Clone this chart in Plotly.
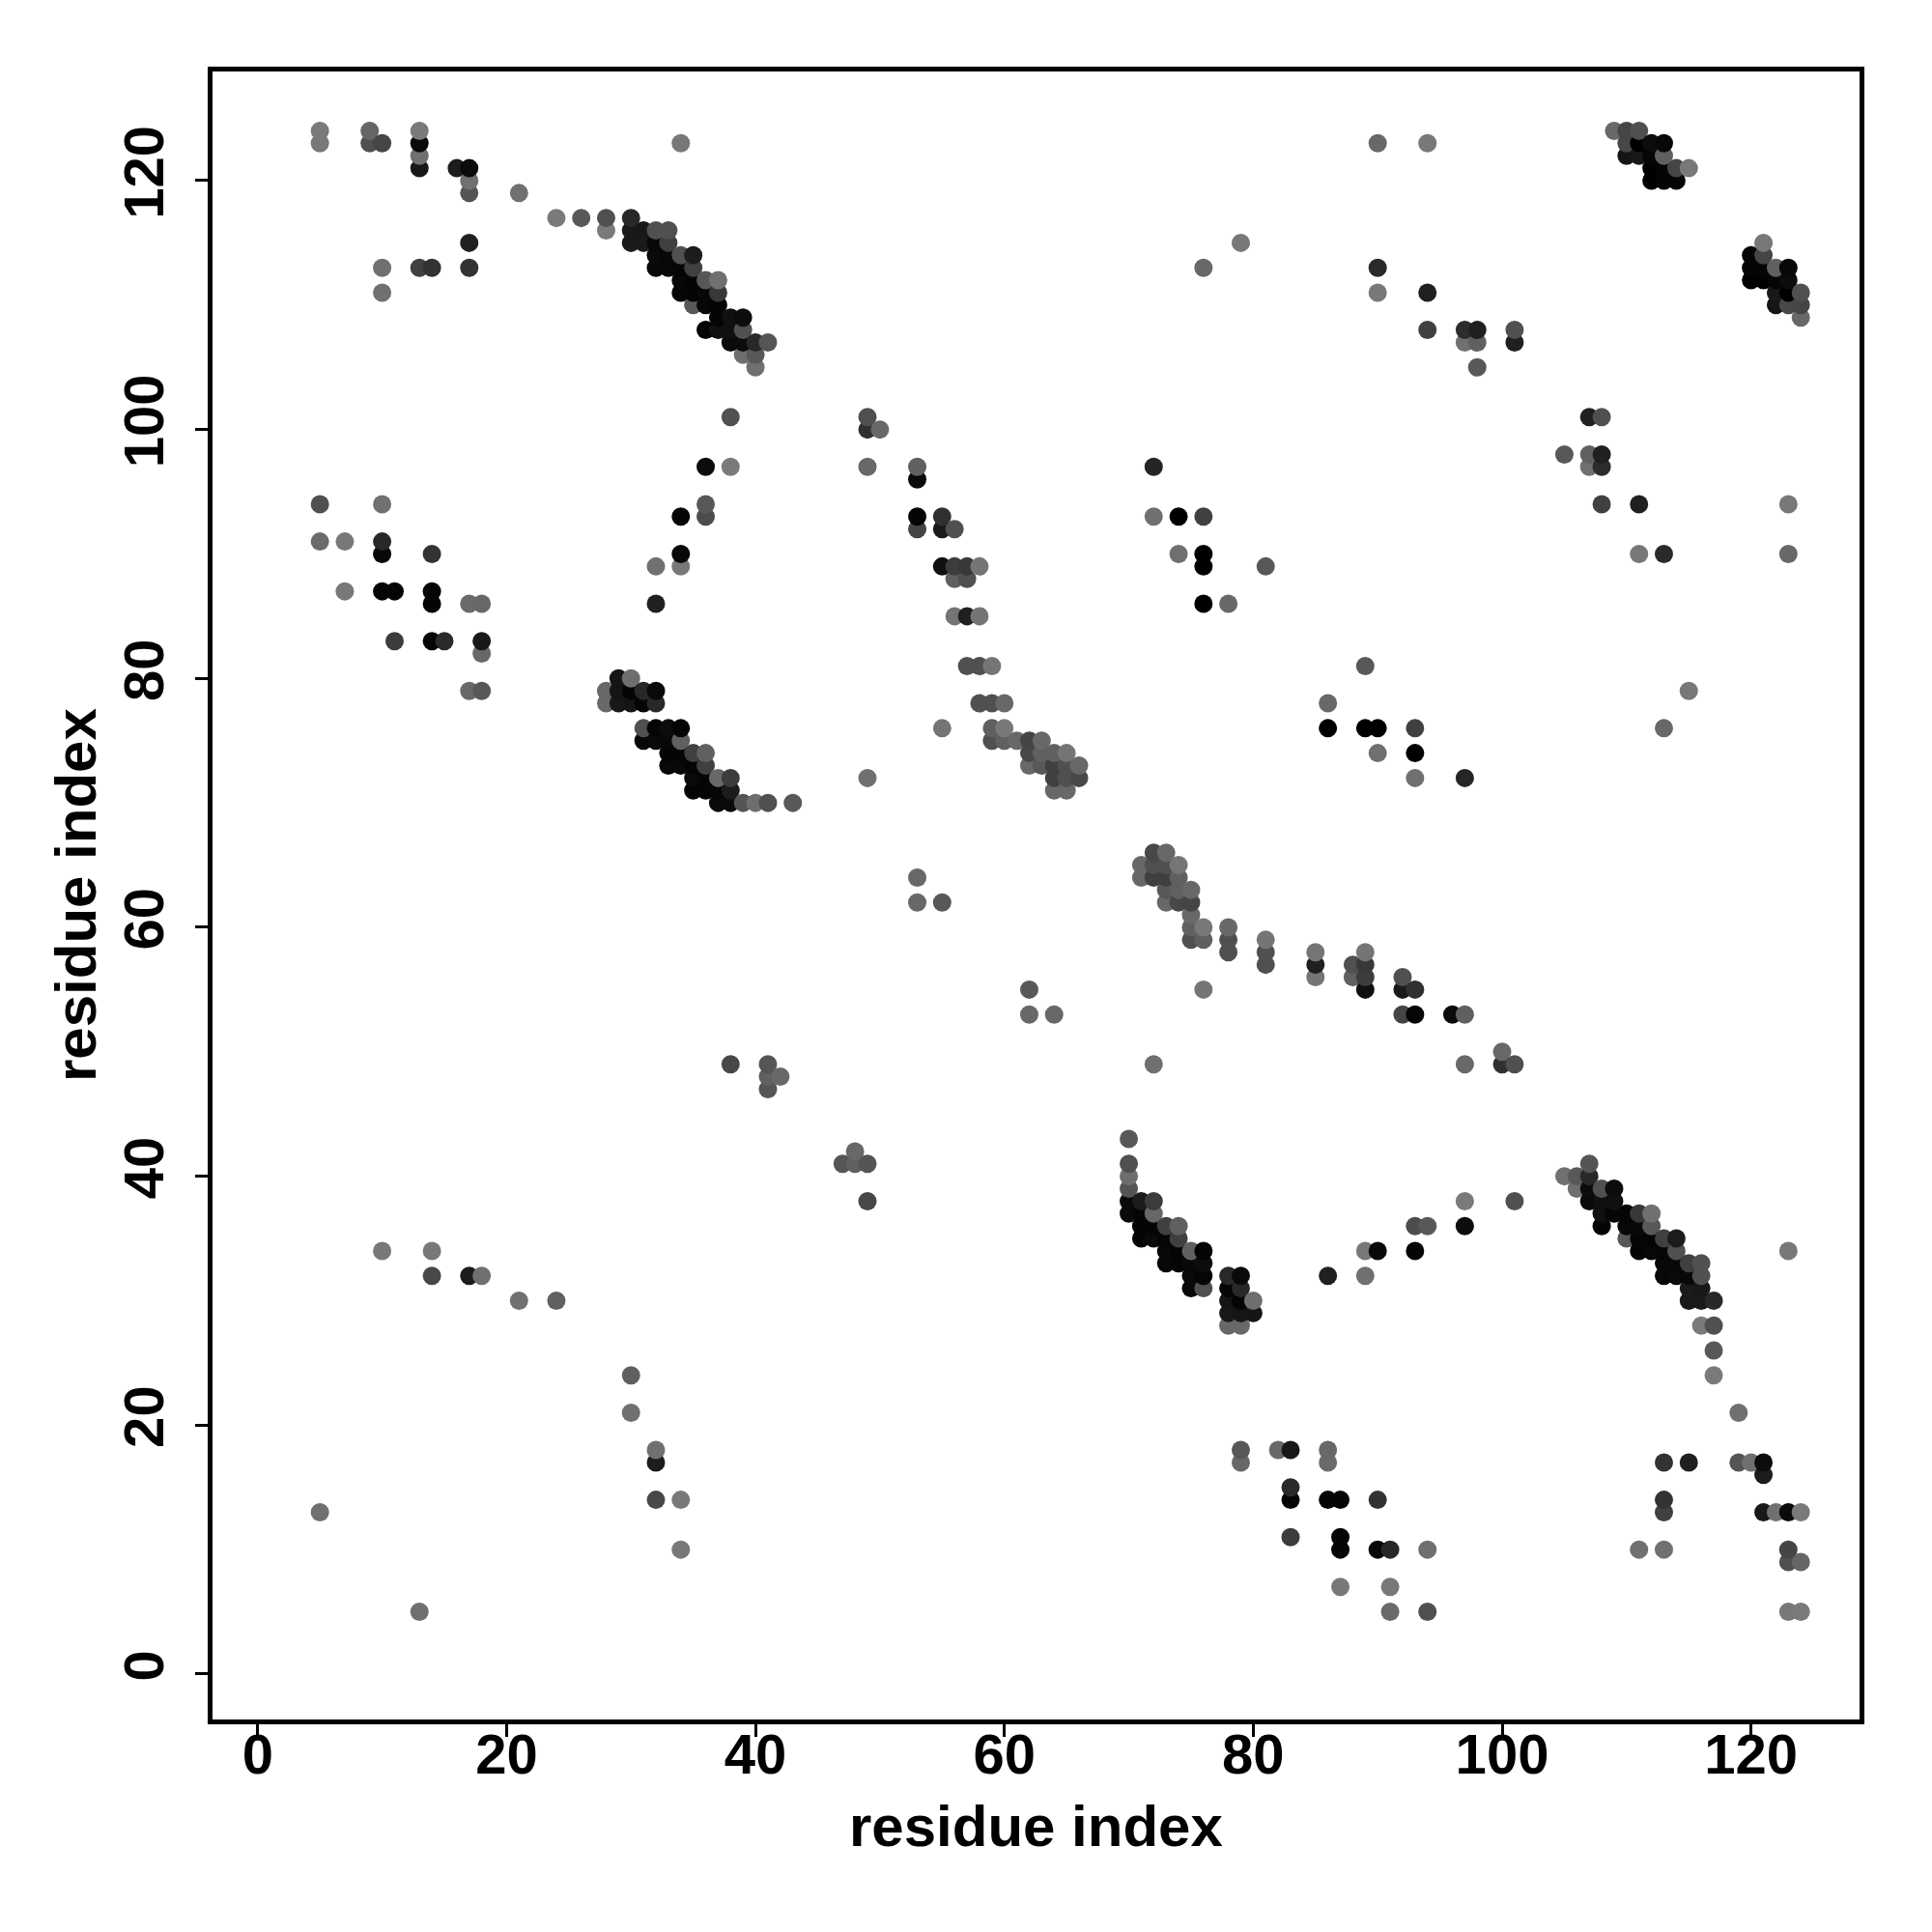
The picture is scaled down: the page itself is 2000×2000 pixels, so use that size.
import plotly.graph_objects as go

# Contact map: one inner list per residue i, holding its partners j (j > i) and a grey level for each.
res_i = [5, 7, 9, 10, 11, 13, 14, 15, 16, 17, 18, 21, 24, 26, 28, 29, 30, 31, 32, 33, 34, 35, 36, 37, 38, 39,
         40, 41, 42, 43, 49, 50, 53, 55, 56, 57, 58, 59, 60, 61, 62, 63, 64, 65, 66, 72, 74, 76, 78, 79, 81,
         90, 94, 97, 98, 101, 109, 110, 111, 112, 113, 114, 115]
res_j = [
    [13, 91, 94, 123, 124],
    [87, 91],
    [123, 124],
    [34, 87, 90, 91, 94, 111, 113, 123],
    [83, 87],
    [113, 121, 122, 123, 124],
    [32, 34, 83, 86, 87, 90, 113],
    [83],
    [121],
    [32, 79, 86, 113, 115, 119, 120, 121],
    [32, 79, 82, 83, 86],
    [30, 119],
    [30, 117],
    [117],
    [78, 79, 116, 117],
    [78, 79, 80],
    [78, 79, 80, 115, 116, 117],
    [75, 76, 78, 79, 115, 116],
    [75, 76, 78, 79, 86, 89, 113, 114, 115, 116],
    [73, 74, 75, 76, 113, 114, 115, 116],
    [73, 74, 75, 76, 89, 90, 93, 111, 112, 113, 114, 123],
    [71, 72, 73, 74, 110, 111, 112, 113, 114],
    [71, 72, 73, 74, 93, 94, 97, 108, 110, 111, 112],
    [70, 71, 72, 108, 109, 110, 111, 112],
    [49, 70, 71, 72, 97, 101, 107, 108, 109],
    [70, 106, 107, 108, 109],
    [70, 105, 106, 107],
    [47, 48, 49, 70, 107],
    [48],
    [70],
    [72, 97, 100, 101],
    [100],
    [62, 64, 92, 93, 96, 97],
    [62, 76, 89, 92, 93],
    [85, 88, 89, 92],
    [81, 85, 88, 89],
    [78, 81, 85, 89],
    [75, 76, 78, 81],
    [75, 76, 78],
    [75],
    [73, 74, 75],
    [73, 74, 75],
    [71, 72, 73, 74],
    [71, 72, 73, 74],
    [72, 73],
    [93, 97],
    [90, 93],
    [86, 89, 90, 93, 113],
    [86],
    [115],
    [89],
    [111, 113, 123],
    [108, 111, 123],
    [107, 108],
    [105, 107, 108],
    [107, 108],
    [124],
    [122, 123, 124],
    [122, 123, 124],
    [120, 121, 122, 123],
    [120, 121, 122, 123],
    [120, 121],
    [121],
]
grey = [
    [0x70, 0x6a, 0x50, 0x78, 0x7a],
    [0x78, 0x78],
    [0x50, 0x66],
    [0x78, 0x05, 0x08, 0x28, 0x70, 0x70, 0x70, 0x45],
    [0x3c, 0x05],
    [0x40, 0x18, 0x70, 0x0a, 0x7a],
    [0x48, 0x78, 0x05, 0x05, 0x05, 0x33, 0x33],
    [0x2a],
    [0x1c],
    [0x1c, 0x68, 0x6a, 0x33, 0x20, 0x55, 0x70, 0x0c],
    [0x70, 0x58, 0x68, 0x18, 0x68],
    [0x70, 0x70],
    [0x60, 0x7a],
    [0x58],
    [0x68, 0x68, 0x7a, 0x50],
    [0x18, 0x15, 0x15],
    [0x15, 0x05, 0x6e, 0x1a, 0x1a, 0x28],
    [0x08, 0x50, 0x05, 0x28, 0x1a, 0x18],
    [0x0a, 0x05, 0x28, 0x0a, 0x20, 0x70, 0x08, 0x0a, 0x08, 0x50],
    [0x08, 0x05, 0x08, 0x0c, 0x08, 0x08, 0x40, 0x50],
    [0x08, 0x05, 0x60, 0x05, 0x78, 0x08, 0x05, 0x05, 0x08, 0x05, 0x50, 0x78],
    [0x05, 0x0a, 0x05, 0x40, 0x58, 0x05, 0x05, 0x40, 0x1c],
    [0x05, 0x05, 0x40, 0x60, 0x4c, 0x58, 0x0c, 0x05, 0x08, 0x08, 0x58],
    [0x0a, 0x05, 0x68, 0x10, 0x05, 0x05, 0x38, 0x70],
    [0x48, 0x0a, 0x1c, 0x3c, 0x7a, 0x50, 0x0a, 0x10, 0x10],
    [0x55, 0x6e, 0x0c, 0x50, 0x0c],
    [0x6e, 0x70, 0x58, 0x28],
    [0x55, 0x60, 0x55, 0x50, 0x55],
    [0x68],
    [0x58],
    [0x70, 0x68, 0x30, 0x50],
    [0x68],
    [0x68, 0x68, 0x45, 0x05, 0x0a, 0x60],
    [0x58, 0x75, 0x10, 0x1a, 0x30],
    [0x75, 0x60, 0x3c, 0x50],
    [0x50, 0x20, 0x50, 0x38],
    [0x50, 0x50, 0x75, 0x75],
    [0x50, 0x60, 0x50, 0x75],
    [0x60, 0x78, 0x68],
    [0x68],
    [0x68, 0x48, 0x45],
    [0x58, 0x60, 0x68],
    [0x68, 0x40, 0x40, 0x60],
    [0x68, 0x50, 0x50, 0x75],
    [0x48, 0x68],
    [0x70, 0x25],
    [0x70, 0x00],
    [0x00, 0x00, 0x00, 0x40, 0x68],
    [0x68],
    [0x78],
    [0x58],
    [0x78, 0x2a, 0x68],
    [0x40, 0x20, 0x78],
    [0x70, 0x2c],
    [0x58, 0x60, 0x20],
    [0x20, 0x50],
    [0x68],
    [0x15, 0x48, 0x45],
    [0x18, 0x00, 0x50],
    [0x00, 0x00, 0x05, 0x0c],
    [0x05, 0x05, 0x60, 0x08],
    [0x05, 0x45],
    [0x78],
]
tick_vals = [0, 20, 40, 60, 80, 100, 120]
axis_label = "residue index"

# Every contact is drawn at (i, j) and (j, i); the map is symmetric.
points = {}
for i, js, gs in zip(res_i, res_j, grey):
    for j, g in zip(js, gs):
        points[(i, j)] = g
        points[(j, i)] = g
ordered = sorted(points)
xs = [p[0] for p in ordered]
ys = [p[1] for p in ordered]
cols = [f"rgb({points[p]},{points[p]},{points[p]})" for p in ordered]

fig = go.Figure(go.Scatter(x=xs, y=ys, mode="markers",
                           marker=dict(size=19, color=cols, line=dict(width=0)),
                           hoverinfo="skip"))
font = "Liberation Sans"
axis = dict(
    tickvals=tick_vals, ticks="outside", ticklen=13, tickwidth=3, tickcolor="black",
    showgrid=False, zeroline=False, showline=True, linecolor="black", linewidth=5, mirror=True,
    tickfont=dict(family=font, size=58, color="black", weight="bold"),
)
title_font = dict(family=font, size=60, color="black", weight="bold")
fig.update_layout(
    width=2000, height=2000, autosize=False, showlegend=False,
    paper_bgcolor="white", plot_bgcolor="white",
    margin=dict(l=211.5, r=82.5, t=65.5, b=227.5, autoexpand=False),
    xaxis=dict(axis, range=[-3.63, 128.72], ticklabelstandoff=-32),
    yaxis=dict(axis, range=[-3.65, 128.77], tickangle=-90, ticklabelstandoff=10),
    annotations=[
        dict(text=axis_label, font=title_font, showarrow=False, xref="paper", yref="paper",
             x=0.5, y=0, xanchor="center", yanchor="middle", yshift=-110),
        dict(text=axis_label, font=title_font, showarrow=False, textangle=-90, xref="paper", yref="paper",
             x=0, y=0.5, xanchor="center", yanchor="middle", xshift=-142),
    ],
)
fig.write_html("out.html")
